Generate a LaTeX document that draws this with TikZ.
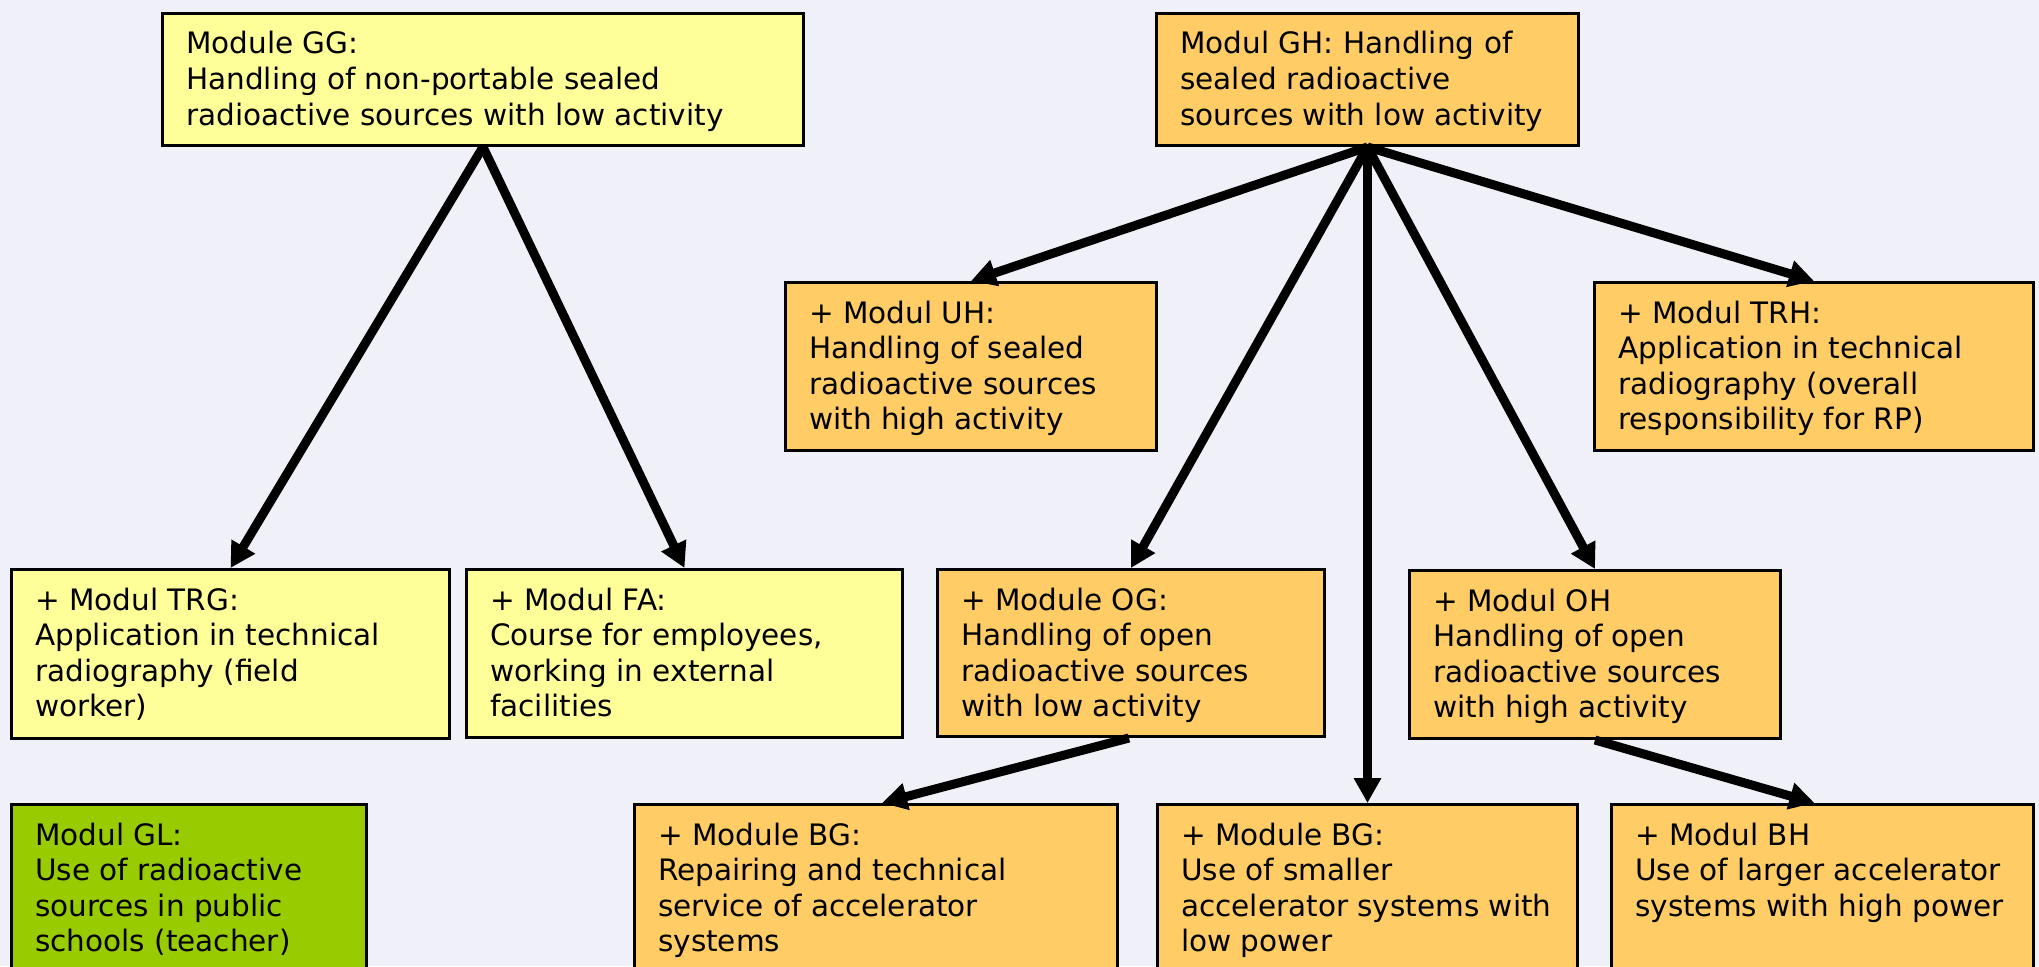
\documentclass[tikz,border=0pt]{standalone}
\usepackage{fontspec}
\setmainfont{DejaVu Sans}
\usetikzlibrary{arrows.meta}
\definecolor{bgc}{HTML}{EFF0F8}
\definecolor{yel}{HTML}{FFFF99}
\definecolor{org}{HTML}{FFCC66}
\definecolor{grn}{HTML}{99CC00}
\tikzset{
  boxs/.style={draw=black, line width=3pt, anchor=north west, inner sep=0pt, rectangle},
  txt/.style={anchor=base west, inner sep=0pt, font=\fontsize{29.5}{35.5}\selectfont},
  arr/.style={line width=9pt, -{Triangle[length=25pt,width=26pt]}},
}
\newcommand{\mtext}[1]{\parbox[t]{700pt}{#1}}
\begin{document}
\begin{tikzpicture}[x=1pt,y=-1pt]
\useasboundingbox (0,0) rectangle (2039,966);
\clip (0,0) rectangle (2039,966);
\fill[bgc] (0,0) rectangle (2039,966);
% boxes
\node[boxs, fill=yel, minimum width=641pt, minimum height=132pt] (gg) at (161,12) {};
\node[boxs, fill=org, minimum width=422pt, minimum height=132pt] (gh) at (1155,12) {};
\node[boxs, fill=org, minimum width=371pt, minimum height=168pt] (uh) at (784,281) {};
\node[boxs, fill=org, minimum width=439pt, minimum height=168pt] (trh) at (1593,281) {};
\node[boxs, fill=yel, minimum width=438pt, minimum height=169pt] (trg) at (10,568) {};
\node[boxs, fill=yel, minimum width=436pt, minimum height=168pt] (fa) at (465,568) {};
\node[boxs, fill=org, minimum width=387pt, minimum height=167pt] (og) at (936,568) {};
\node[boxs, fill=org, minimum width=371pt, minimum height=168pt] (oh) at (1408,569) {};
\node[boxs, fill=grn, minimum width=355pt, minimum height=200pt] (gl) at (10,803) {};
\node[boxs, fill=org, minimum width=483pt, minimum height=200pt] (bga) at (633,803) {};
\node[boxs, fill=org, minimum width=420pt, minimum height=200pt] (bgb) at (1156,803) {};
\node[boxs, fill=org, minimum width=422pt, minimum height=200pt] (bh) at (1610,803) {};
% texts
\node[txt] (ggt) at ([xshift=25pt,yshift=-42pt]gg.north west) {\mtext{Module GG:\\Handling of non-portable sealed\\radioactive sources with low activity}};
\node[txt] (ght) at ([xshift=25pt,yshift=-42pt]gh.north west) {\mtext{Modul GH: Handling of\\sealed radioactive\\sources with low activity}};
\node[txt] (uht) at ([xshift=25pt,yshift=-42pt]uh.north west) {\mtext{+ Modul UH:\\Handling of sealed\\radioactive sources\\with high activity}};
\node[txt] (trht) at ([xshift=25pt,yshift=-42pt]trh.north west) {\mtext{+ Modul TRH:\\Application in technical\\radiography (overall\\responsibility for RP)}};
\node[txt] (trgt) at ([xshift=25pt,yshift=-42pt]trg.north west) {\mtext{+ Modul TRG:\\Application in technical\\radiography (field\\worker)}};
\node[txt] (fat) at ([xshift=25pt,yshift=-42pt]fa.north west) {\mtext{+ Modul FA:\\Course for employees,\\working in external\\facilities}};
\node[txt] (ogt) at ([xshift=25pt,yshift=-42pt]og.north west) {\mtext{+ Module OG:\\Handling of open\\radioactive sources\\with low activity}};
\node[txt] (oht) at ([xshift=25pt,yshift=-42pt]oh.north west) {\mtext{+ Modul OH\\Handling of open\\radioactive sources\\with high activity}};
\node[txt] (glt) at ([xshift=25pt,yshift=-42pt]gl.north west) {\mtext{Modul GL:\\Use of radioactive\\sources in public\\schools (teacher)}};
\node[txt] (bgat) at ([xshift=25pt,yshift=-42pt]bga.north west) {\mtext{+ Module BG:\\Repairing and technical\\service of accelerator\\systems}};
\node[txt] (bgbt) at ([xshift=25pt,yshift=-42pt]bgb.north west) {\mtext{+ Module BG:\\Use of smaller\\accelerator systems with\\low power}};
\node[txt] (bht) at ([xshift=25pt,yshift=-42pt]bh.north west) {\mtext{+ Modul BH\\Use of larger accelerator\\systems with high power}};
% arrows
\draw[arr] (gg.south) -- (trg.north);
\draw[arr] (gg.south) -- (fa.north);
\draw[arr] (gh.south) -- (uh.north);
\draw[arr] (gh.south) -- (trh.north);
\draw[arr] (gh.south) -- (og.north);
\draw[arr] (gh.south) -- (oh.north);
\draw[arr] (gh.south) -- (bgb.north);
\draw[arr] ([xshift=-2pt]og.south) -- ([xshift=6pt]bga.north);
\draw[arr] (oh.south) -- ([xshift=-8pt]bh.north);
\end{tikzpicture}
\end{document}
